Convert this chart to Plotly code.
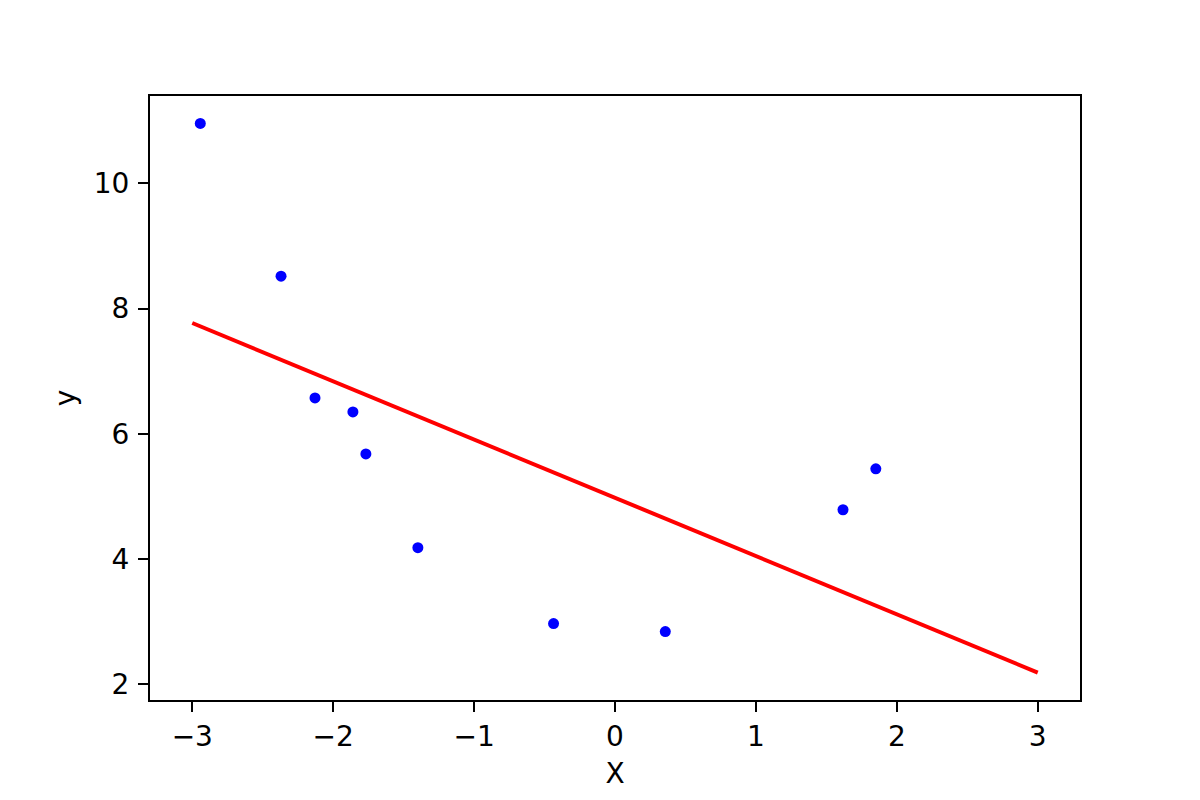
import plotly.graph_objects as go

# Scatter data
x_pts = [-2.943, -2.370, -2.129, -1.860, -1.768, -1.399, -0.436, 0.357, 1.618, 1.851]
y_pts = [10.956, 8.518, 6.574, 6.351, 5.681, 4.183, 2.972, 2.845, 4.789, 5.442]

# Fitted line endpoints
line_x = [-3.0, 3.0]
line_y = [7.77, 2.19]

x_ticks = [-3, -2, -1, 0, 1, 2, 3]
y_ticks = [2, 4, 6, 8, 10]

fig = go.Figure()
fig.add_trace(go.Scatter(x=x_pts, y=y_pts, mode="markers",
                         marker=dict(color="#0000ff", size=11, line=dict(width=0)),
                         showlegend=False))
fig.add_trace(go.Scatter(x=line_x, y=line_y, mode="lines",
                         line=dict(color="#ff0000", width=4),
                         showlegend=False))

axis_common = dict(showline=True, linecolor="black", linewidth=2, mirror=True,
                   ticks="outside", ticklen=10, tickwidth=2, tickcolor="black",
                   showgrid=False, zeroline=False,
                   tickfont=dict(family="DejaVu Sans", size=28, color="black"))

fig.update_layout(
    width=1200, height=800,
    margin=dict(l=142, r=128, t=88, b=108),
    paper_bgcolor="white", plot_bgcolor="white",
    font=dict(family="DejaVu Sans", size=28, color="black"),
    xaxis=dict(range=[-3.3, 3.3], tickvals=x_ticks, ticklabelstandoff=0,
               title=dict(text="X", standoff=12,
                          font=dict(family="DejaVu Sans", size=28, color="black")),
               **axis_common),
    yaxis=dict(range=[1.752, 11.394], tickvals=y_ticks, ticklabelstandoff=3,
               title=dict(text="y", standoff=10,
                          font=dict(family="DejaVu Sans", size=28, color="black")),
               **axis_common),
)

fig.write_html("out.html")
